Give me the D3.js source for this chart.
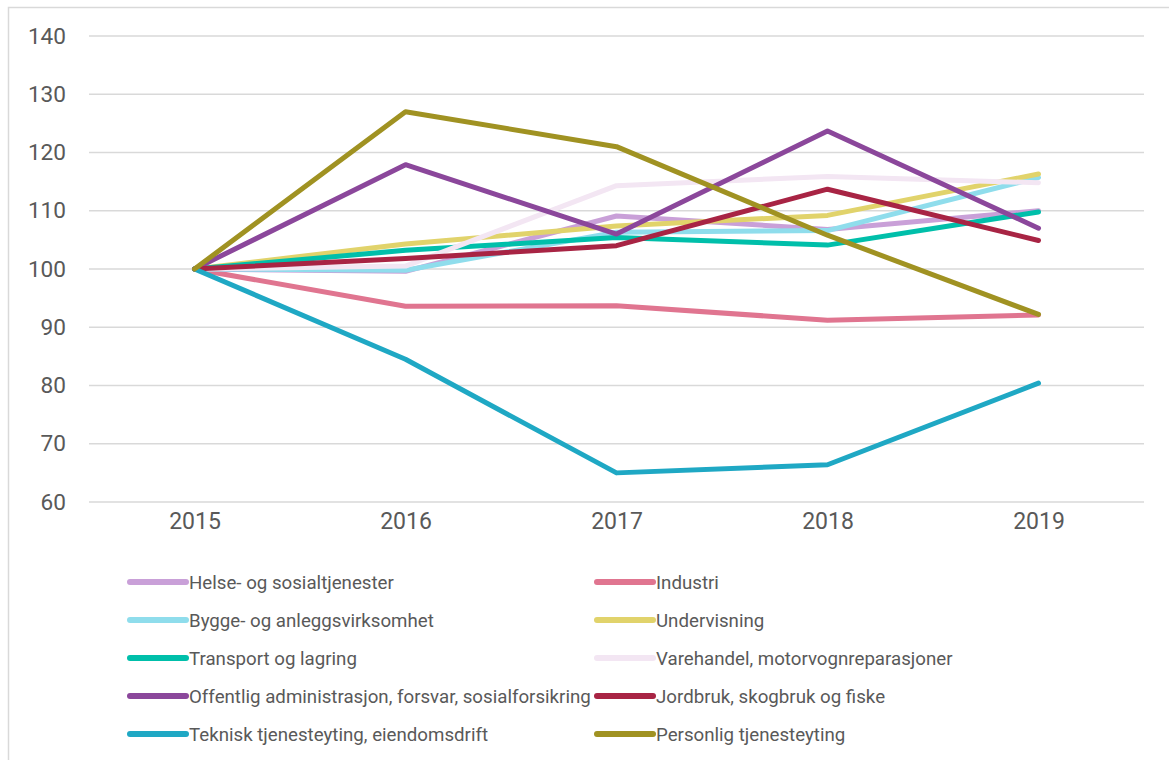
<!DOCTYPE html>
<html>
<head>
<meta charset="utf-8">
<script src="https://cdn.jsdelivr.net/npm/d3@7/dist/d3.min.js"></script>
<style>
html,body{margin:0;padding:0;background:#fff;}
svg{display:block;font-family:Roboto, "Noto Sans", sans-serif;}
</style>
</head>
<body>
<svg id="chart" width="1169" height="760"></svg>
<script>
const years = ["2015","2016","2017","2018","2019"];
const yTicks = [60,70,80,90,100,110,120,130,140];

const seriesNames = [
  "Helse- og sosialtjenester",
  "Industri",
  "Bygge- og anleggsvirksomhet",
  "Undervisning",
  "Transport og lagring",
  "Varehandel, motorvognreparasjoner",
  "Offentlig administrasjon, forsvar, sosialforsikring",
  "Jordbruk, skogbruk og fiske",
  "Teknisk tjenesteyting, eiendomsdrift",
  "Personlig tjenesteyting"
];
const helse       = [100, 99.6, 109.1, 106.8, 110.0];
const industri    = [100, 93.6, 93.7, 91.2, 92.1];
const bygge       = [100, 99.8, 106.3, 106.6, 115.7];
const undervisning= [100, 104.3, 107.4, 109.2, 116.3];
const transport   = [100, 103.2, 105.4, 104.1, 109.8];
const varehandel  = [100, 100.5, 114.3, 115.9, 114.8];
const offentlig   = [100, 117.9, 106.0, 123.7, 107.0];
const jordbruk    = [100, 101.8, 104.0, 113.7, 104.9];
const teknisk     = [100, 84.5, 65.0, 66.4, 80.4];
const personlig   = [100, 127.0, 121.0, 105.8, 92.2];
const seriesValues = [helse, industri, bygge, undervisning, transport, varehandel, offentlig, jordbruk, teknisk, personlig];
const seriesColors = ["#C9A0D8","#E07590","#8FDDEC","#E1D36B","#00BFAA","#F3E6F3","#8B479B","#A82444","#1FA8C4","#A09222"];

const svg = d3.select("#chart");

// outer border
svg.append("path")
  .attr("d","M8.5,760 L8.5,7.5 L1169,7.5")
  .attr("fill","none").attr("stroke","#d9d9d9").attr("stroke-width",1.5);

const x = d3.scalePoint().domain(years).range([89,1144]).padding(0.5);
const y = d3.scaleLinear().domain([60,140]).range([502,36]);

// gridlines
svg.append("g").selectAll("line").data(yTicks).join("line")
  .attr("x1",89).attr("x2",1144)
  .attr("y1",d=>y(d)).attr("y2",d=>y(d))
  .attr("stroke","#d9d9d9").attr("stroke-width",1.5);

// y axis labels
const yAxis = d3.axisLeft(y).tickValues(yTicks).tickSize(0).tickPadding(0);
const yg = svg.append("g").attr("transform","translate(66,0)").call(yAxis);
yg.select(".domain").remove();
yg.selectAll("text").attr("fill","#595959").style("font-size","22.6px").style("font-family","Roboto");

// x axis labels
const xAxis = d3.axisBottom(x).tickSize(0).tickPadding(0);
const xg = svg.append("g").attr("transform","translate(0,513)").call(xAxis);
xg.select(".domain").remove();
xg.selectAll("text").attr("fill","#595959").style("font-size","23px").style("font-family","Roboto");

// lines
const line = d3.line().x((d,i)=>x(years[i])).y(d=>y(d));
svg.append("g").selectAll("path").data(seriesValues).join("path")
  .attr("d",d=>line(d))
  .attr("fill","none")
  .attr("stroke",(d,i)=>seriesColors[i])
  .attr("stroke-width",5)
  .attr("stroke-linejoin","round")
  .attr("stroke-linecap","round");

// legend
const legendRows = [582,620,658,696,734];
const legendCols = [130,597];
const lg = svg.append("g").selectAll("g").data(seriesNames).join("g")
  .attr("transform",(d,i)=>`translate(${legendCols[i%2]},${legendRows[Math.floor(i/2)]})`);
lg.append("line").attr("x1",0).attr("x2",56).attr("y1",0).attr("y2",0)
  .attr("stroke",(d,i)=>seriesColors[i]).attr("stroke-width",6).attr("stroke-linecap","round");
lg.append("text").attr("x",59).attr("y",0).attr("dy","0.35em")
  .attr("fill","#595959").style("font-size","18.7px").text(d=>d);
</script>
</body>
</html>
